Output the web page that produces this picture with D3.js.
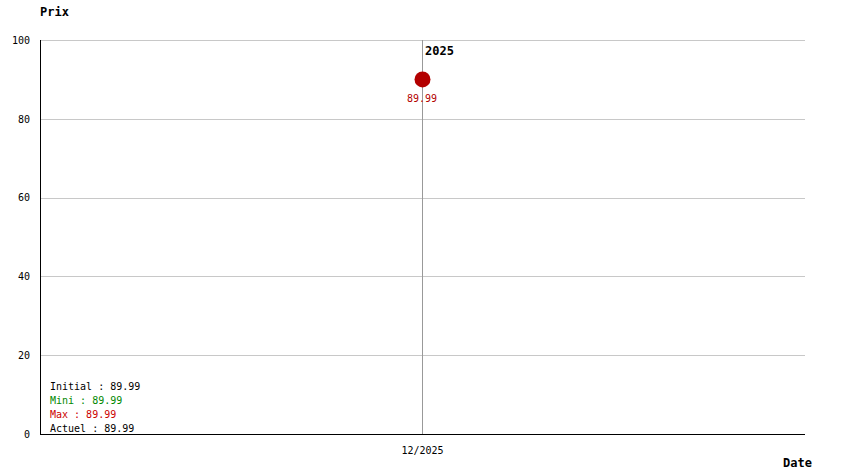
<!DOCTYPE html>
<html lang="fr">
<head>
<meta charset="UTF-8">
<title>Prix</title>
<script src="https://d3js.org/d3.v7.min.js"></script>
<style>
html, body { margin: 0; padding: 0; background: white; }
svg text { font-family: 'DejaVu Sans Mono', monospace; font-size: 10px; }
.grid line { stroke: #c8c8c8; stroke-width: 1; }
.y-axis path, .y-axis line { display: none; }
.bold { font-weight: bold; font-size: 12px; }
</style>
</head>
<body>
<div id="chart"></div>
<script>
// data
var dates = ["12/2025"];
var years = ["2025"];
var prices = [89.99];
var yTicks = [0, 20, 40, 60, 80, 100];
var statLabels = ["Initial", "Mini", "Max", "Actuel"];
var statValues = [89.99, 89.99, 89.99, 89.99];
var statColors = ["#000000", "#008800", "#cc0000", "#000000"];

var totalWidth = 844, totalHeight = 474;
var margin = {top: 40, right: 39, bottom: 40, left: 40};

var svg = d3.select("#chart").append("svg")
  .attr("width", totalWidth)
  .attr("height", totalHeight);

var x = d3.scalePoint()
  .domain(dates)
  .range([margin.left, totalWidth - margin.right])
  .padding(0.5);

var y = d3.scaleLinear()
  .domain([0, 100])
  .range([totalHeight - margin.bottom, margin.top]);

// grid lines
svg.append("g").attr("class", "grid")
  .selectAll("line")
  .data(yTicks.filter(d => d > 0))
  .join("line")
  .attr("x1", margin.left)
  .attr("x2", totalWidth - margin.right)
  .attr("y1", d => Math.round(y(d)) + 0.5)
  .attr("y2", d => Math.round(y(d)) + 0.5);

// y axis labels
svg.append("g").attr("class", "y-axis")
  .attr("transform", `translate(${margin.left - 2},0)`)
  .call(d3.axisLeft(y).tickValues(yTicks).tickSize(0).tickPadding(8))
  .selectAll("text")
  .style("font-family", "'DejaVu Sans Mono', monospace")
  .style("font-size", "10px")
  .attr("fill", "#000");

// vertical date line
svg.append("g")
  .selectAll("line")
  .data(dates)
  .join("line")
  .attr("x1", d => Math.floor(x(d)) + 0.5)
  .attr("x2", d => Math.floor(x(d)) + 0.5)
  .attr("y1", margin.top)
  .attr("y2", totalHeight - margin.bottom)
  .attr("stroke", "#999")
  .attr("stroke-width", 1);

// axes lines
svg.append("line")
  .attr("x1", margin.left + 0.5).attr("x2", margin.left + 0.5)
  .attr("y1", margin.top).attr("y2", totalHeight - margin.bottom)
  .attr("stroke", "#000");
svg.append("line")
  .attr("x1", margin.left).attr("x2", totalWidth - margin.right)
  .attr("y1", totalHeight - margin.bottom + 0.5).attr("y2", totalHeight - margin.bottom + 0.5)
  .attr("stroke", "#000");

// x tick labels
svg.append("g")
  .selectAll("text")
  .data(dates)
  .join("text")
  .attr("x", d => Math.floor(x(d)) + 0.5)
  .attr("y", totalHeight - margin.bottom + 20)
  .attr("text-anchor", "middle")
  .text(d => d);

// year labels
svg.append("g")
  .selectAll("text")
  .data(years)
  .join("text")
  .attr("class", "bold")
  .attr("x", (d, i) => Math.floor(x(dates[i])) + 3)
  .attr("y", margin.top + 15)
  .text(d => d);

// points
svg.append("g")
  .selectAll("circle")
  .data(prices)
  .join("circle")
  .attr("cx", (d, i) => Math.floor(x(dates[i])) + 0.5)
  .attr("cy", d => y(d))
  .attr("r", 8)
  .attr("fill", "#b30000");

svg.append("g")
  .selectAll("text")
  .data(prices)
  .join("text")
  .attr("x", (d, i) => Math.floor(x(dates[i])))
  .attr("y", d => y(d) + 23)
  .attr("text-anchor", "middle")
  .attr("fill", "#b30000")
  .text(d => d.toFixed(2));

// stats block
svg.append("g")
  .selectAll("text")
  .data(statLabels)
  .join("text")
  .attr("x", margin.left + 10)
  .attr("y", (d, i) => 390 + i * 14)
  .attr("fill", (d, i) => statColors[i])
  .text((d, i) => d + " : " + statValues[i].toFixed(2));

// axis titles
svg.append("text").attr("class", "bold")
  .attr("x", 40).attr("y", 16).text("Prix");
svg.append("text").attr("class", "bold")
  .attr("x", 783).attr("y", 467).text("Date");
</script>
</body>
</html>
